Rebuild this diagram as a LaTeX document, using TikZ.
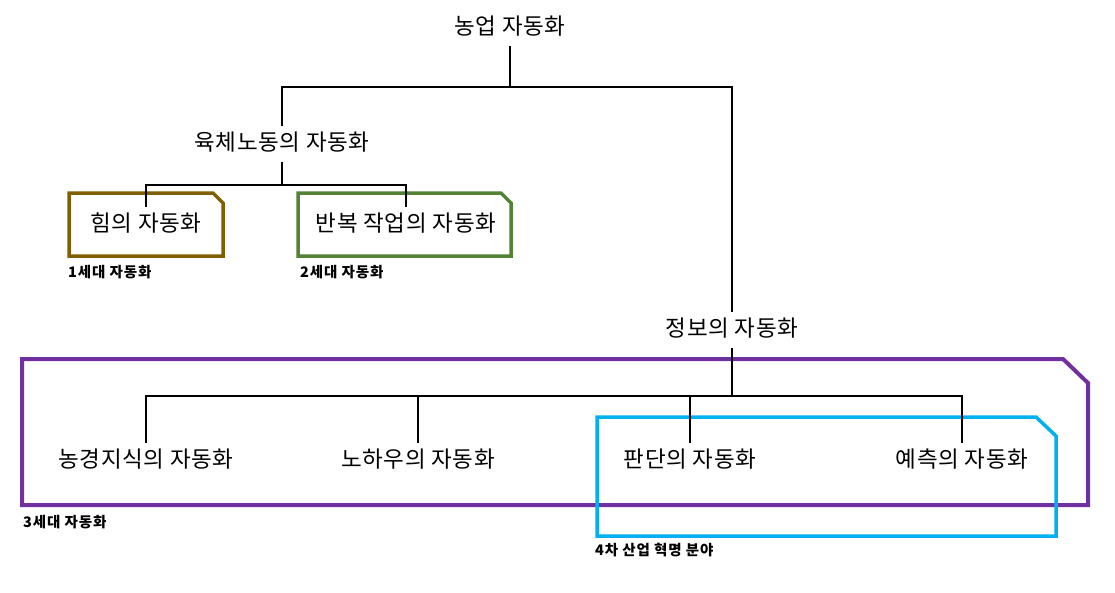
\documentclass[tikz,border=0pt]{standalone}
\usepackage{fontspec}
\setmainfont{Noto Sans CJK KR}
\newfontfamily\mainkr{Noto Sans CJK KR}[LetterSpace=3]
\newfontfamily\tagkr{Noto Sans CJK KR}[LetterSpace=6]
\definecolor{cbrown}{HTML}{7F6000}
\definecolor{cgreen}{HTML}{548235}
\definecolor{cpurple}{HTML}{7030A0}
\definecolor{cblue}{HTML}{00B0F0}
\tikzset{
  lbl/.style={inner sep=0pt, minimum height=36pt, text height=16pt, text depth=4pt, font=\mainkr\fontsize{22.5pt}{26pt}\selectfont},
  tag/.style={inner sep=0pt, anchor=west, font=\tagkr\fontsize{14.5pt}{16pt}\selectfont\bfseries},
  conn/.style={draw=black, line width=2pt},
  frame/.style={line width=3.5pt, line join=miter},
}
\begin{document}
\begin{tikzpicture}[x=1pt, y=-1pt]
\useasboundingbox (0,0) rectangle (1115,592);
\fill[white] (0,0) rectangle (1115,592);

% frames
\draw[frame, draw=cbrown] (69,193) -- (213,193) -- (223,203) -- (223,256) -- (69,256) -- cycle;
\draw[frame, draw=cgreen] (298,193) -- (501,193) -- (511,203) -- (511,256) -- (298,256) -- cycle;
\draw[frame, draw=cpurple, line width=4pt] (22,359) -- (1063,359) -- (1088,383) -- (1088,505) -- (22,505) -- cycle;
\draw[frame, draw=cblue] (597,417) -- (1036,417) -- (1056,436) -- (1056,536) -- (597,536) -- cycle;

% nodes
\node[lbl] (top) at (510,28) {농업 자동화};
\node[lbl] (body) at (282,144) {육체노동의 자동화};
\node[lbl] (info) at (732,330) {정보의 자동화};
\node[lbl] (him) at (146,225) {힘의 자동화};
\node[lbl] (ban) at (406,225) {반복 작업의 자동화};
\node[lbl] (nong) at (146,461) {농경지식의 자동화};
\node[lbl] (noha) at (418,461) {노하우의 자동화};
\node[lbl] (pan) at (690,461) {판단의 자동화};
\node[lbl] (yech) at (962,461) {예측의 자동화};

\node[tag] (g1) at (68,272) {1세대 자동화};
\node[tag] (g2) at (300,272) {2세대 자동화};
\node[tag] (g3) at (23,522) {3세대 자동화};
\node[tag] (g4) at (595,550) {4차 산업 혁명 분야};

% junctions
\coordinate (j1) at (510,87);
\coordinate (j2) at (282,185);
\coordinate (j3) at (732,396);

% connectors
\draw[conn] (top.south) -- (j1);
\draw[conn] (body.north) |- (j1) -| (info.north);
\draw[conn] (body.south) -- (j2);
\draw[conn] (him.north) |- (j2) -| (ban.north);
\draw[conn] (info.south) -- (j3);
\draw[conn] (nong.north) |- (j3) -| (yech.north);
\draw[conn] (noha.north) |- (j3);
\draw[conn] (pan.north) |- (j3);
\end{tikzpicture}
\end{document}
